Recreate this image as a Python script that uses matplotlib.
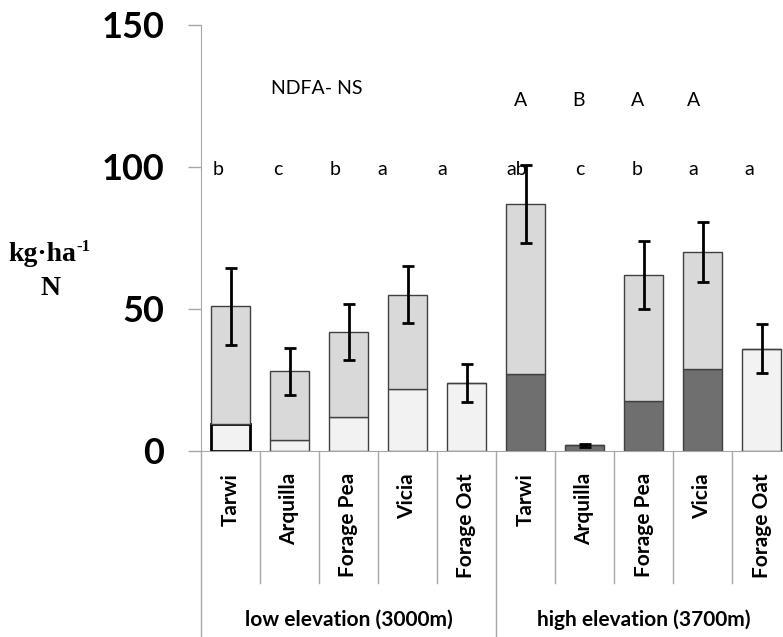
import matplotlib
matplotlib.use("Agg")
import matplotlib.pyplot as plt
import matplotlib.transforms as mtransforms
import numpy as np

# donnees (kg N / ha)
cultures = ["Tarwi", "Arquilla", "Forage Pea", "Vicia", "Forage Oat",
            "Tarwi", "Arquilla", "Forage Pea", "Vicia", "Forage Oat"]
groupes = ["low elevation (3000m)", "high elevation (3700m)"]
total = [51, 28, 42, 55, 24, 87, 2, 62, 70, 36]
partie_basse = [9.5, 4, 12, 22, 24, 27, 2, 17.5, 29, 36]
erreur = [13.5, 8.3, 9.8, 10, 6.7, 13.6, 0.5, 12, 10.5, 8.6]
lettres = ["b", "c", "b", "a", "a", "ab", "c", "b", "a", "a"]
lettres_x = [-0.21, 0.81, 1.78, 2.57, 3.59, 4.85, 5.92, 6.89, 7.85, 8.79]
majuscules = ["A", "B", "A", "A"]
majuscules_x = [4.92, 5.9, 6.9, 7.85]

W, H = 783, 637
fig = plt.figure(figsize=(W / 100, H / 100), dpi=100)
ax = fig.add_axes([201 / W, (H - 451) / H, 590 / W, 426 / H])

x = np.arange(len(cultures))
total = np.array(total, dtype=float)
partie_basse = np.array(partie_basse, dtype=float)
partie_haute = total - partie_basse

couleurs_bas = ["#f2f2f2"] * 5 + ["#6f6f6f", "#6f6f6f", "#6f6f6f", "#6f6f6f", "#f2f2f2"]
gris_bord = "#404040"
larg = 0.65

barres = ax.bar(x, partie_basse, width=larg, color=couleurs_bas,
                edgecolor=gris_bord, linewidth=1.0, zorder=2)
barres[0].set_edgecolor("black")
barres[0].set_linewidth(2.0)
ax.bar(x, partie_haute, bottom=partie_basse, width=larg, color="#d9d9d9",
       edgecolor=gris_bord, linewidth=1.0, zorder=2)
ax.errorbar(x, total, yerr=erreur, fmt="none", ecolor="black",
            elinewidth=2, capsize=4, capthick=2, zorder=3)

ax.set_xlim(-0.5, 9.5)
ax.set_ylim(0, 150)
ax.set_yticks([0, 50, 100, 150])
ax.set_xticks([])
for s in ["top", "right"]:
    ax.spines[s].set_visible(False)
ax.spines["left"].set_color("#a6a6a6")
ax.spines["bottom"].set_color("#a6a6a6")
ax.tick_params(axis="y", length=9.5, width=1, color="#a6a6a6", pad=17)
for t in ax.get_yticklabels():
    t.set_fontfamily("Lato")
    t.set_fontweight("bold")
    t.set_fontsize(26)

# lettres de significativite
for lx, l in zip(lettres_x, lettres):
    ax.text(lx, 99, l, ha="center", va="center", fontsize=14, family="Lato")
for lx, l in zip(majuscules_x, majuscules):
    ax.text(lx, 123.5, l, ha="center", va="center", fontsize=14, family="Lato")
ax.text(1.47, 127.5, "NDFA- NS", ha="center", va="center", fontsize=14, family="Lato")

# axe des categories sous le graphique
trans = mtransforms.blended_transform_factory(ax.transData, ax.transAxes)
for i in range(1, 10):
    bas = -0.5 if i == 5 else -0.31
    ax.plot([i - 0.5, i - 0.5], [0, bas], transform=trans, color="#a6a6a6",
            lw=1, clip_on=False)
ax.plot([-0.5, -0.5], [0, -0.5], transform=trans, color="#a6a6a6", lw=1, clip_on=False)
ax.plot([9.5, 9.5], [0, -0.5], transform=trans, color="#a6a6a6", lw=1, clip_on=False)

for xi, nom in zip(x, cultures):
    ax.text(xi, -0.052, nom, transform=trans, rotation=90, ha="center", va="top",
            fontsize=15, fontweight="bold", family="Lato")
ax.text(2.0, -0.397, groupes[0], transform=trans, ha="center", va="center",
        fontsize=15, fontweight="bold", family="Lato")
ax.text(7.0, -0.397, groupes[1], transform=trans, ha="center", va="center",
        fontsize=15, fontweight="bold", family="Lato")

# titre de l'axe y
fig.text(8 / W, 1 - 261 / H, "kg·ha", ha="left", va="baseline",
         fontsize=20, fontweight="bold", family="Liberation Serif")
fig.text(76 / W, 1 - 251 / H, "-1", ha="left", va="baseline",
         fontsize=12, fontweight="bold", family="Liberation Serif")
fig.text(51 / W, 1 - 295 / H, "N", ha="center", va="baseline",
         fontsize=20, fontweight="bold", family="Liberation Serif")

fig.savefig("out.png", dpi=100)
